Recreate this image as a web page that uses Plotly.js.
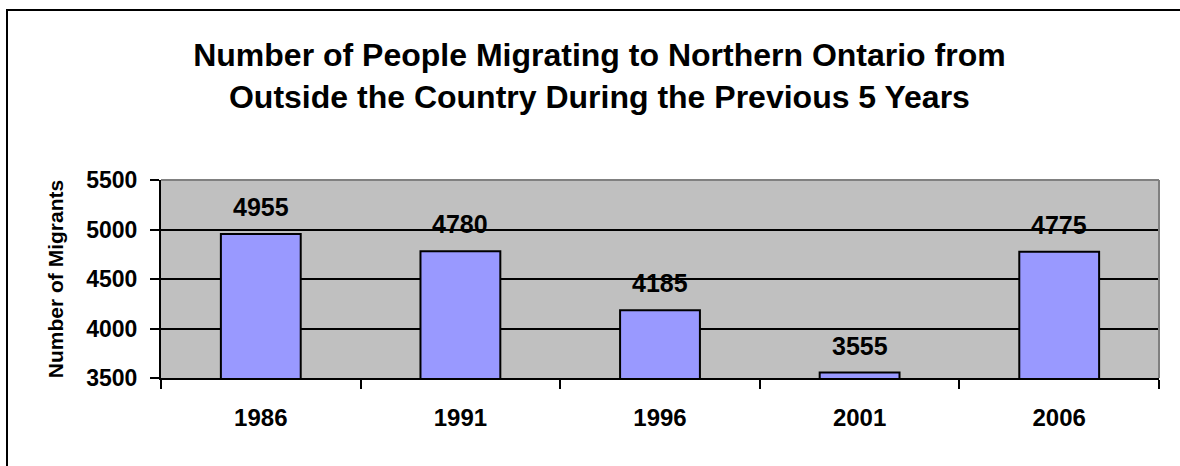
<!DOCTYPE html>
<html>
<head>
<meta charset="utf-8">
<script src="https://cdn.plot.ly/plotly-3.0.1.min.js"></script>
<style>
  html, body { margin: 0; padding: 0; background: #fff; overflow: hidden; }
  #wrap { position: relative; width: 1180px; height: 466px; overflow: hidden; }
  #chart { width: 1180px; height: 466px; }
  #frame { position: absolute; left: 6px; top: 9px; width: 1300px; height: 600px;
           border: 2px solid #000; pointer-events: none; box-sizing: border-box; }
</style>
</head>
<body>
<div id="wrap">
  <div id="chart"></div>
  <div id="frame"></div>
</div>
<script>
const categories = ["1986", "1991", "1996", "2001", "2006"];
const migrants = [4955, 4780, 4185, 3555, 4775];
const yTickValues = [3500, 4000, 4500, 5000, 5500];
const yTickLabels = ["3500", "4000", "4500", "5000", "5500"];

const FONT = "Liberation Sans, Arial, sans-serif";

const trace = {
  type: "bar",
  x: categories,
  y: migrants,
  marker: { color: "#9999FF", line: { color: "#000000", width: 2 } },
  hoverinfo: "skip"
};

const annotations = categories.map((c, i) => ({
  x: i, y: migrants[i], xref: "x", yref: "y",
  text: "<b>" + migrants[i] + "</b>",
  showarrow: false, yanchor: "middle", yshift: 27,
  font: { family: FONT, size: 25, color: "#000" }
}));

const layout = {
  width: 1180, height: 466,
  margin: { l: 161, r: 21, t: 180, b: 88 },
  paper_bgcolor: "#ffffff",
  plot_bgcolor: "#C0C0C0",
  bargap: 0.6,
  showlegend: false,
  font: { family: FONT, color: "#000" },
  title: {
    text: "<b>Number of People Migrating to Northern Ontario from<br>Outside the Country During the Previous 5 Years</b>",
    font: { family: FONT, size: 32, color: "#000" },
    x: 0.508, xref: "container", xanchor: "center",
    y: 1 - 66 / 466, yref: "container", yanchor: "middle"
  },
  xaxis: {
    type: "category",
    categoryorder: "array", categoryarray: categories,
    range: [-0.5, categories.length - 0.5],
    autorange: false,
    showgrid: false,
    showline: true, linecolor: "#000", linewidth: 2,
    ticks: "outside", tickson: "boundaries", ticklen: 9, tickwidth: 2, tickcolor: "#000",
    tickfont: { family: FONT, size: 24, color: "#000" },
    tickprefix: "<b>", ticksuffix: "</b>",
    tickangle: 0,
    ticklabelstandoff: 17,
    fixedrange: true
  },
  yaxis: {
    range: [3500, 5500],
    autorange: false,
    tickvals: yTickValues,
    ticktext: yTickLabels.map(t => "<b>" + t + "</b>"),
    showgrid: true, gridcolor: "#000", gridwidth: 2,
    showline: true, linecolor: "#000", linewidth: 2,
    zeroline: false,
    ticks: "outside", ticklen: 9, tickwidth: 2, tickcolor: "#000",
    tickfont: { family: FONT, size: 23, color: "#000" },
    ticklabelstandoff: 8,
    title: {
      text: "<b>Number of Migrants</b>",
      font: { family: FONT, size: 21, color: "#000" },
      standoff: 17
    },
    fixedrange: true
  },
  shapes: [
    { type: "line", xref: "paper", yref: "paper", x0: 0, x1: 1, y0: 1, y1: 1,
      line: { color: "#808080", width: 2 }, layer: "above" },
    { type: "line", xref: "paper", yref: "paper", x0: 1, x1: 1, y0: 0, y1: 1,
      line: { color: "#808080", width: 2 }, layer: "above" }
  ],
  annotations: annotations
};

Plotly.newPlot("chart", [trace], layout, { displayModeBar: false, staticPlot: true });
</script>
</body>
</html>
